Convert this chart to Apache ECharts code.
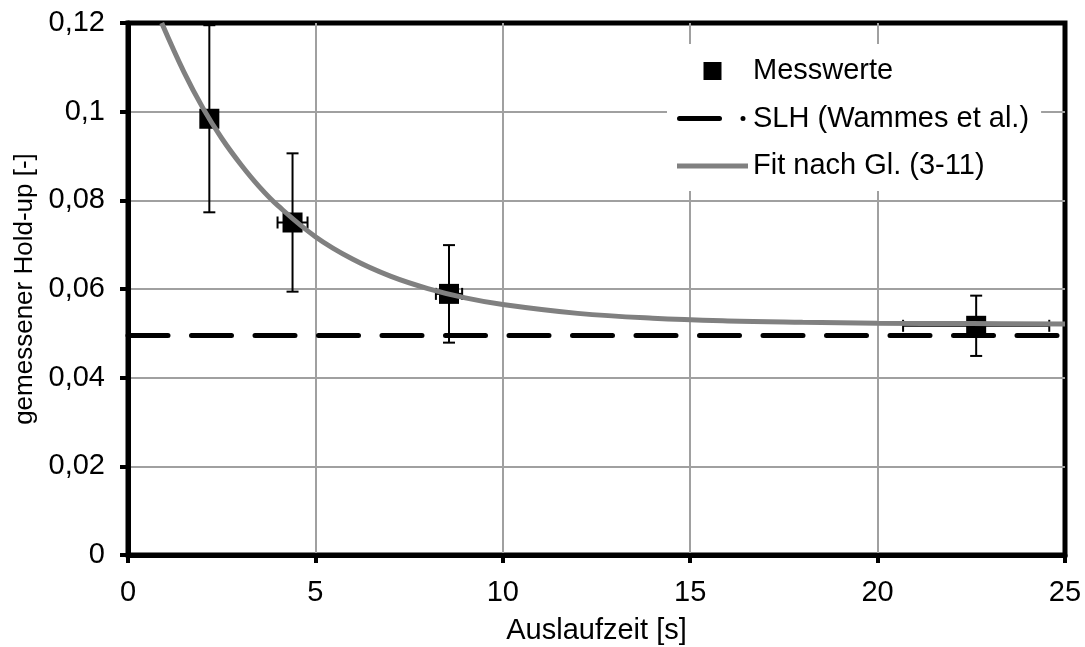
<!DOCTYPE html>
<html>
<head>
<meta charset="utf-8">
<script src="https://cdn.jsdelivr.net/npm/echarts@6/dist/echarts.min.js"></script>
<style>
  html, body { margin: 0; padding: 0; background: #fff; }
  #chart { width: 1085px; height: 647px; }
</style>
</head>
<body>
<div id="chart"></div>
<script>
// Tick labels (German decimal comma)
const xTickLabels = ['0', '5', '10', '15', '20', '25'];
const yTickLabels = ['0', '0,02', '0,04', '0,06', '0,08', '0,1', '0,12'];

// Measured hold-up: drain time [s], hold-up [-], and their error ranges
const messZeit = [2.17, 4.39, 8.565, 22.63];
const messHoldUp = [0.0984, 0.0750, 0.0589, 0.0517];
const fehlerHoldUp = [0.0211, 0.0156, 0.0110, 0.0068];
const fehlerZeit = [0, 0.40, 0.35, 1.95];

// Static liquid hold-up after Wammes et al.
const slhZeit = [0, 25];
const slhWert = [0.0495, 0.0495];

// Fit curve after Eq. (3-11)
const fitZeit = [0.9, 1.5, 2.0, 2.5, 3.0, 3.5, 4.0, 5.0, 6.0, 7.0, 8.0, 9.0, 10, 12, 14, 16, 18, 20, 22.5, 25];
const fitWert = [0.1200, 0.1088, 0.1008, 0.0940, 0.0882, 0.0831, 0.0788, 0.0718, 0.0667, 0.0629,
                 0.0601, 0.0580, 0.0565, 0.0545, 0.0534, 0.0528, 0.0525, 0.0523, 0.0522, 0.0521];

const FONT = "'Liberation Sans', Arial, sans-serif";
const FS = 29;

const chart = echarts.init(document.getElementById('chart'), null, { renderer: 'canvas' });

const messData = messZeit.map((t, i) => [t, messHoldUp[i]]);
const fehlerData = messZeit.map((t, i) => [t, messHoldUp[i], fehlerHoldUp[i], fehlerZeit[i]]);
const slhData = slhZeit.map((t, i) => [t, slhWert[i]]);
const fitData = fitZeit.map((t, i) => [t, fitWert[i]]);

function renderErrorBar(params, api) {
  const x = api.value(0), y = api.value(1), ey = api.value(2), ex = api.value(3);
  const top = api.coord([x, y + ey]);
  const bot = api.coord([x, y - ey]);
  const cap = 6;
  const style = { stroke: '#000', lineWidth: 2 };
  const children = [
    { type: 'line', shape: { x1: top[0], y1: top[1], x2: bot[0], y2: bot[1] }, style },
    { type: 'line', shape: { x1: top[0] - cap, y1: top[1], x2: top[0] + cap, y2: top[1] }, style },
    { type: 'line', shape: { x1: bot[0] - cap, y1: bot[1], x2: bot[0] + cap, y2: bot[1] }, style }
  ];
  if (ex > 0) {
    const l = api.coord([x - ex, y]);
    const r = api.coord([x + ex, y]);
    children.push(
      { type: 'line', shape: { x1: l[0], y1: l[1], x2: r[0], y2: r[1] }, style },
      { type: 'line', shape: { x1: l[0], y1: l[1] - cap, x2: l[0], y2: l[1] + cap }, style },
      { type: 'line', shape: { x1: r[0], y1: r[1] - cap, x2: r[0], y2: r[1] + cap }, style }
    );
  }
  return { type: 'group', children };
}

// Legend icons spanning the full 71x18 icon box so they are not stretched
const ICON_BOX = 'M0,0M71,18';
const iconMess = 'path://' + ICON_BOX + 'M26.5,0h18v18h-18z';
const iconSlh = 'path://' + ICON_BOX + 'M2.5,6.5h40a2.5,2.5 0 0 1 0,5h-40a2.5,2.5 0 0 1 0,-5z' +
                'M66,6.5a2.5,2.5 0 0 1 0,5a2.5,2.5 0 0 1 0,-5z';
const iconFit = 'path://' + ICON_BOX + 'M0,6.5h71v5h-71z';

const option = {
  backgroundColor: '#fff',
  animation: false,
  textStyle: { fontFamily: FONT },
  grid: {
    left: 128, right: 20, top: 23, bottom: 92,
    outerBoundsMode: 'none', containLabel: false,
    show: true, borderColor: '#000', borderWidth: 5, backgroundColor: '#fff'
  },
  xAxis: {
    type: 'value', min: 0, max: 25, interval: 5,
    axisLine: { show: true, onZero: false, lineStyle: { color: '#000', width: 5 } },
    axisTick: { show: true, length: 8, lineStyle: { color: '#000', width: 4 } },
    splitLine: { show: true, showMinLine: false, showMaxLine: false, lineStyle: { color: '#a0a0a0', width: 2 } },
    axisLabel: {
      color: '#000', fontSize: FS, fontFamily: FONT, margin: 23,
      formatter: v => xTickLabels[Math.round(v / 5)]
    },
    name: 'Auslaufzeit [s]', nameLocation: 'middle', nameGap: 61,
    nameTextStyle: { color: '#000', fontSize: FS, fontFamily: FONT }
  },
  yAxis: {
    type: 'value', min: 0, max: 0.12, interval: 0.02,
    axisLine: { show: true, onZero: false, lineStyle: { color: '#000', width: 5 } },
    axisTick: { show: true, length: 8, lineStyle: { color: '#000', width: 4 } },
    splitLine: { show: true, showMinLine: false, showMaxLine: false, lineStyle: { color: '#a0a0a0', width: 2 } },
    axisLabel: {
      color: '#000', fontSize: FS, fontFamily: FONT, margin: 23,
      formatter: v => yTickLabels[Math.round(v / 0.02)]
    },
    name: 'gemessener Hold-up [-]', nameLocation: 'middle', nameGap: 83,
    nameTextStyle: { color: '#000', fontSize: 26, fontFamily: FONT }
  },
  legend: {
    orient: 'vertical', left: 667, top: 44,
    padding: [12.5, 12, 10.5, 10],
    backgroundColor: '#fff',
    itemWidth: 71, itemHeight: 18, itemGap: 18.5,
    symbolKeepAspect: true,
    selectedMode: false,
    textStyle: { color: '#000', fontSize: FS, fontFamily: FONT },
    data: [
      { name: 'Messwerte', icon: iconMess, itemStyle: { color: '#000' } },
      { name: 'SLH (Wammes et al.)', icon: iconSlh, itemStyle: { color: '#000' } },
      { name: 'Fit nach Gl. (3-11)', icon: iconFit, itemStyle: { color: '#808080' } }
    ]
  },
  series: [
    {
      name: 'Fehler', type: 'custom', renderItem: renderErrorBar,
      data: fehlerData, z: 2, encode: { x: 0, y: 1 }, silent: true
    },
    {
      name: 'Messwerte', type: 'scatter', data: messData,
      symbol: 'rect', symbolSize: 20, itemStyle: { color: '#000', opacity: 1 }, z: 3
    },
    {
      name: 'SLH (Wammes et al.)', type: 'line', data: slhData,
      symbol: 'none', z: 4,
      lineStyle: { color: '#000', width: 5, type: [40, 23.5], cap: 'round' },
      itemStyle: { color: '#000' }
    },
    {
      name: 'Fit nach Gl. (3-11)', type: 'line', data: fitData,
      symbol: 'none', smooth: 0.4, z: 5,
      lineStyle: { color: '#808080', width: 5 },
      itemStyle: { color: '#808080' }
    }
  ]
};

chart.setOption(option);
</script>
</body>
</html>
